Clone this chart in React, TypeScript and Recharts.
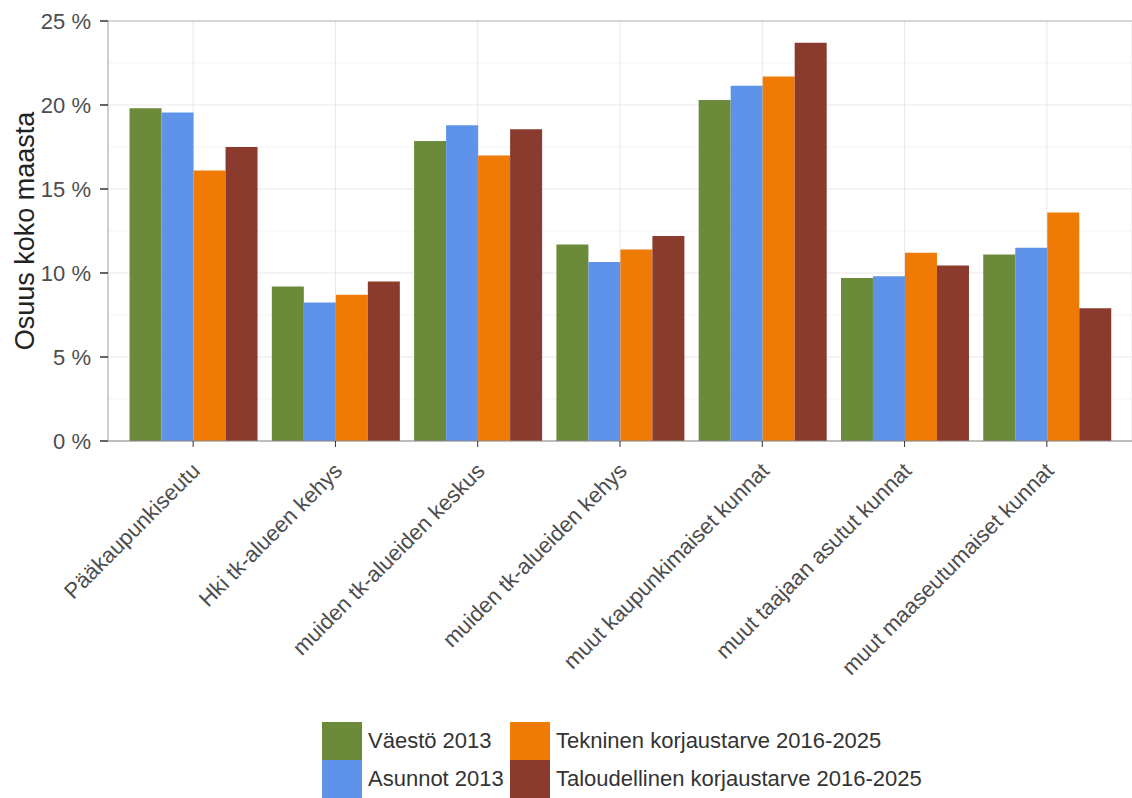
import {
  BarChart,
  Bar,
  XAxis,
  YAxis,
  CartesianGrid,
  ReferenceLine,
} from 'recharts';

const categories = [
  'Pääkaupunkiseutu',
  'Hki tk-alueen kehys',
  'muiden tk-alueiden keskus',
  'muiden tk-alueiden kehys',
  'muut kaupunkimaiset kunnat',
  'muut taajaan asutut kunnat',
  'muut maaseutumaiset kunnat',
];

const vaesto = [19.8, 9.2, 17.85, 11.7, 20.3, 9.7, 11.1];
const asunnot = [19.55, 8.25, 18.8, 10.65, 21.15, 9.8, 11.5];
const tekninen = [16.1, 8.7, 17.0, 11.4, 21.7, 11.2, 13.6];
const taloudellinen = [17.5, 9.5, 18.55, 12.2, 23.7, 10.45, 7.9];

const yTicks = [0, 5, 10, 15, 20, 25];
const yMinor = [2.5, 7.5, 12.5, 17.5, 22.5];

const series = [
  { key: 'vaesto', name: 'Väestö 2013', color: '#6b8a3a' },
  { key: 'asunnot', name: 'Asunnot 2013', color: '#5f93ea' },
  { key: 'tekninen', name: 'Tekninen korjaustarve 2016-2025', color: '#f07a06' },
  { key: 'taloudellinen', name: 'Taloudellinen korjaustarve 2016-2025', color: '#8b3a2e' },
];

const rows = categories.map((name, i) => ({
  name,
  vaesto: vaesto[i],
  asunnot: asunnot[i],
  tekninen: tekninen[i],
  taloudellinen: taloudellinen[i],
}));

const FONT = '"Liberation Sans", Arial, sans-serif';

const XTick = (props: any) => {
  const { x, y, payload } = props;
  return (
    <g transform={`translate(${x - 3},${y + 12})`}>
      <text
        transform="rotate(-45)"
        textAnchor="end"
        dy="0.72em"
        fontSize={22}
        fontFamily={FONT}
        fill="#4d4d4d"
      >
        {payload.value}
      </text>
    </g>
  );
};

const LegendBox = () => {
  const cols = [
    [series[0], series[1]],
    [series[2], series[3]],
  ];
  const lefts = [322, 510];
  return (
    <>
      {cols.map((col, c) =>
        col.map((s, r) => (
          <div
            key={s.key}
            style={{
              position: 'absolute',
              left: lefts[c],
              top: 722 + r * 38,
              height: 38,
              display: 'flex',
              alignItems: 'center',
              fontFamily: FONT,
              fontSize: 22,
              color: '#333',
              whiteSpace: 'nowrap',
            }}
          >
            <span style={{ width: 40, height: 38, background: s.color, marginRight: 6 }} />
            {s.name}
          </div>
        ))
      )}
    </>
  );
};

export default function App() {
  return (
    <div
      style={{
        position: 'absolute',
        left: 0,
        top: 0,
        width: 1132,
        height: 798,
        overflow: 'hidden',
        background: '#fff',
      }}
    >
      <BarChart
        width={1132}
        height={798}
        data={rows}
        margin={{ top: 21, right: 0, bottom: 0, left: 0 }}
        barCategoryGap="5.3%"
        barGap={0}
      >
        <CartesianGrid horizontalValues={yMinor} vertical={false} stroke="#f3f3f3" />
        <CartesianGrid stroke="#e8e8e8" />
        <XAxis
          dataKey="name"
          interval={0}
          height={357}
          padding={{ left: 14, right: 14 }}
          tick={<XTick />}
          tickSize={6}
          tickLine={{ stroke: '#333' }}
          axisLine={{ stroke: '#888' }}
        />
        <YAxis
          width={108}
          domain={[0, 25]}
          ticks={yTicks}
          tickFormatter={(v: number) => `${v} %`}
          tickSize={8}
          tickMargin={9}
          tickLine={{ stroke: '#333', strokeWidth: 1.5 }}
          axisLine={{ stroke: '#aaa' }}
          tick={{ fontSize: 22, fontFamily: FONT, fill: '#4d4d4d' }}
          label={{
            value: 'Osuus koko maasta',
            angle: -90,
            position: 'center',
            dx: -30,
            fontSize: 27,
            fontFamily: FONT,
            fill: '#222',
          }}
        />
        <ReferenceLine y={25} stroke="#bbb" />
        {series.map((s) => (
          <Bar key={s.key} dataKey={s.key} name={s.name} fill={s.color} isAnimationActive={false} />
        ))}
      </BarChart>
      <LegendBox />
    </div>
  );
}
